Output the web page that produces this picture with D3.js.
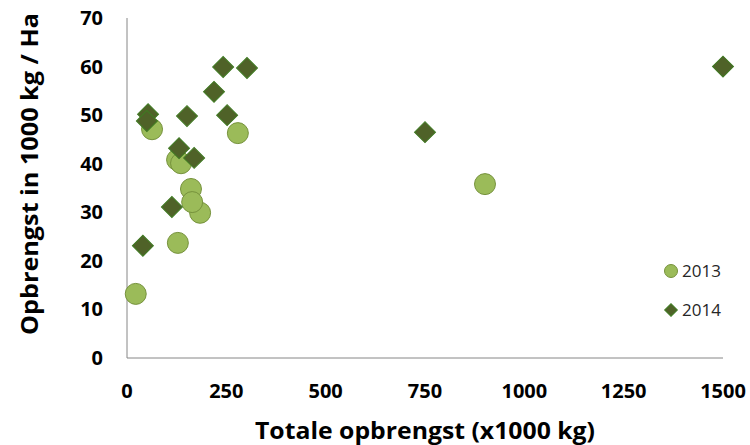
<!DOCTYPE html>
<html><head><meta charset="utf-8">
<script src="https://cdn.jsdelivr.net/npm/d3@7"></script>
<style>body{margin:0;background:#fff}svg{display:block}</style>
</head><body>
<script>
const xTicks = [0, 250, 500, 750, 1000, 1250, 1500];
const yTicks = [0, 10, 20, 30, 40, 50, 60, 70];
const series = ["2013", "2014"];
const x2013 = [22, 128, 184, 63, 279, 126, 136, 161, 164, 901];
const y2013 = [13.2, 23.7, 29.9, 47.1, 46.3, 40.8, 40.1, 34.8, 32.1, 35.8];
const x2014 = [40, 113, 53, 50, 151, 242, 302, 219, 252, 131, 169, 750, 1500];
const y2014 = [23.1, 31.1, 50.2, 48.8, 49.8, 59.9, 59.7, 54.8, 50, 43.2, 41.2, 46.5, 60];

const W = 750, H = 445;
const svg = d3.select("body").append("svg").attr("width", W).attr("height", H);
const x = d3.scaleLinear().domain([0, 1500]).range([127, 723]);
const y = d3.scaleLinear().domain([0, 70]).range([358, 18]);
const font = "'Open Sans', sans-serif";

// axes lines
svg.append("line").attr("x1", x(0)).attr("x2", x(0)).attr("y1", y(70)).attr("y2", y(0))
  .attr("stroke", "#868686").attr("stroke-width", 1);
svg.append("line").attr("x1", x(0)).attr("x2", x(1500)).attr("y1", y(0)).attr("y2", y(0))
  .attr("stroke", "#868686").attr("stroke-width", 1);

// tick labels
svg.append("g").selectAll("text").data(yTicks).join("text")
  .attr("x", 103).attr("y", d => y(d)).attr("dy", "0.35em")
  .attr("text-anchor", "end").attr("font-family", font).attr("font-weight", "bold")
  .attr("font-size", 20).attr("fill", "#000").text(d => d);
svg.append("g").selectAll("text").data(xTicks).join("text")
  .attr("x", d => x(d)).attr("y", 391).attr("dy", "0.35em")
  .attr("text-anchor", "middle").attr("font-family", font).attr("font-weight", "bold")
  .attr("font-size", 20).attr("fill", "#000").text(d => d);

// titles
svg.append("text").attr("x", 425).attr("y", 431).attr("dy", "0.35em")
  .attr("text-anchor", "middle").attr("font-family", font).attr("font-weight", "bold")
  .attr("font-size", 24).attr("textLength", 340).attr("lengthAdjust", "spacingAndGlyphs")
  .text("Totale opbrengst (x1000 kg)");
svg.append("text").attr("transform", "translate(30,174) rotate(-90)").attr("dy", "0.35em")
  .attr("text-anchor", "middle").attr("font-family", font).attr("font-weight", "bold")
  .attr("font-size", 24).attr("textLength", 322).attr("lengthAdjust", "spacingAndGlyphs")
  .text("Opbrengst in 1000 kg / Ha");

// points
const d13 = x2013.map((v, i) => ({x: v, y: y2013[i]}));
const d14 = x2014.map((v, i) => ({x: v, y: y2014[i]}));
svg.append("g").selectAll("circle").data(d13).join("circle")
  .attr("cx", d => x(d.x)).attr("cy", d => y(d.y)).attr("r", 10.5)
  .attr("fill", "#9BBB59").attr("stroke", "#76923C").attr("stroke-width", 1);
const diamond = d3.symbol().type(d3.symbolSquare).size(220);
svg.append("g").selectAll("path").data(d14).join("path")
  .attr("d", diamond)
  .attr("transform", d => `translate(${x(d.x)},${y(d.y)}) rotate(45)`)
  .attr("fill", "#4F6228").attr("stroke", "#3F7A22").attr("stroke-width", 1);

// legend
const lg = svg.append("g");
lg.append("circle").attr("cx", 671).attr("cy", 271).attr("r", 6.5)
  .attr("fill", "#9BBB59").attr("stroke", "#76923C");
lg.append("path").attr("d", d3.symbol().type(d3.symbolSquare).size(80))
  .attr("transform", "translate(671,310) rotate(45)")
  .attr("fill", "#4F6228").attr("stroke", "#3F7A22");
lg.selectAll("text").data(series).join("text")
  .attr("x", 682).attr("y", (d, i) => 271 + i * 39).attr("dy", "0.35em")
  .attr("font-family", font).attr("font-size", 17).attr("fill", "#262626").text(d => d);
</script>
</body></html>
